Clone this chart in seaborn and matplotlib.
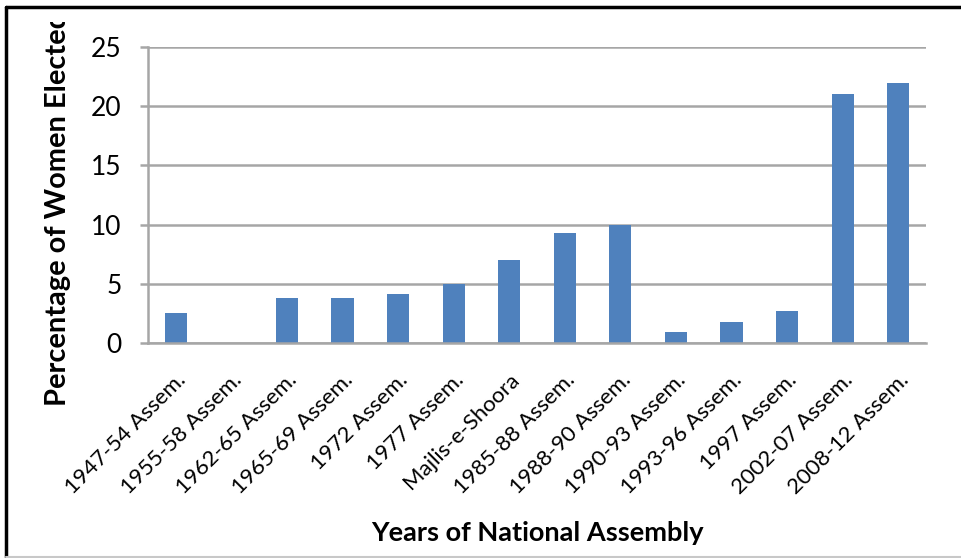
import matplotlib
matplotlib.use('Agg')
import matplotlib.pyplot as plt
import seaborn as sns
import pandas as pd
from matplotlib.lines import Line2D
from matplotlib.transforms import Bbox

categories = ["1947-54 Assem.", "1955-58 Assem.", "1962-65 Assem.", "1965-69 Assem.",
              "1972 Assem.", "1977 Assem.", "Majlis-e-Shoora", "1985-88 Assem.",
              "1988-90 Assem.", "1990-93 Assem.", "1993-96 Assem.", "1997 Assem.",
              "2002-07 Assem.", "2008-12 Assem."]
values = [2.5, 0.0, 3.8, 3.8, 4.1, 5.0, 7.0, 9.3, 10.0, 0.9, 1.8, 2.7, 21.0, 22.0]
yticks = [0, 5, 10, 15, 20, 25]
x_title = "Years of National Assembly"
y_title = "Percentage of Women Elected"

sns.set_theme(style='white')
plt.rcParams['font.family'] = ['Lato', 'DejaVu Sans']

W, H = 961, 558
fig = plt.figure(figsize=(W / 100, H / 100), dpi=100)
ax = fig.add_axes([148 / W, (H - 343) / H, (926 - 148) / W, 296 / H])

df = pd.DataFrame({'cat': categories, 'val': values})
sns.barplot(data=df, x='cat', y='val', color='#4F81BD', width=0.4,
            saturation=1, linewidth=0, ax=ax)

ax.set_xlim(-0.5, len(categories) - 0.5)
ax.set_ylim(0, 25)
ax.set_yticks(yticks)
ax.set_yticklabels([str(t) for t in yticks])
ax.set_xticks(range(len(categories)))
ax.set_xticklabels(categories, rotation=45, ha='right', rotation_mode='anchor',
                   fontsize=16, color='black')
ax.set_xlabel('')
ax.set_ylabel('')

grid_c = '#A6A6A6'
ax.yaxis.grid(True, color=grid_c, lw=1.8)
ax.xaxis.grid(False)
ax.set_axisbelow(True)
for s in ['top', 'right']:
    ax.spines[s].set_visible(False)
for s in ['left', 'bottom']:
    ax.spines[s].set_color(grid_c)
    ax.spines[s].set_linewidth(1.8)
ax.tick_params(axis='y', left=True, length=6, width=1.8, color=grid_c, pad=13,
               labelsize=19, labelcolor='black')
ax.tick_params(axis='x', bottom=False, length=0, pad=19)

fig.text(537 / W, (H - 541) / H, x_title, ha='center', va='baseline',
         fontsize=19.5, fontweight='bold', color='black')
yl = fig.text(58 / W, (H - 406) / H, y_title, ha='center', va='bottom',
              rotation=90, fontsize=20.9, fontweight='bold', color='black')
yl.set_clip_box(Bbox.from_extents(0, 0, W, H - 22))
yl.set_clip_on(True)

# outer frame
fig.add_artist(Line2D([6 / W, 1], [(H - 7) / H] * 2, color='black', lw=2.5,
                      transform=fig.transFigure))
fig.add_artist(Line2D([6 / W] * 2, [(H - 7) / H, 1.5 / H], color='black', lw=2.5,
                      transform=fig.transFigure))
fig.add_artist(Line2D([6 / W, 1], [1.5 / H] * 2, color='#C8C8C8', lw=1.5,
                      transform=fig.transFigure))

fig.savefig('out.png', dpi=100)
